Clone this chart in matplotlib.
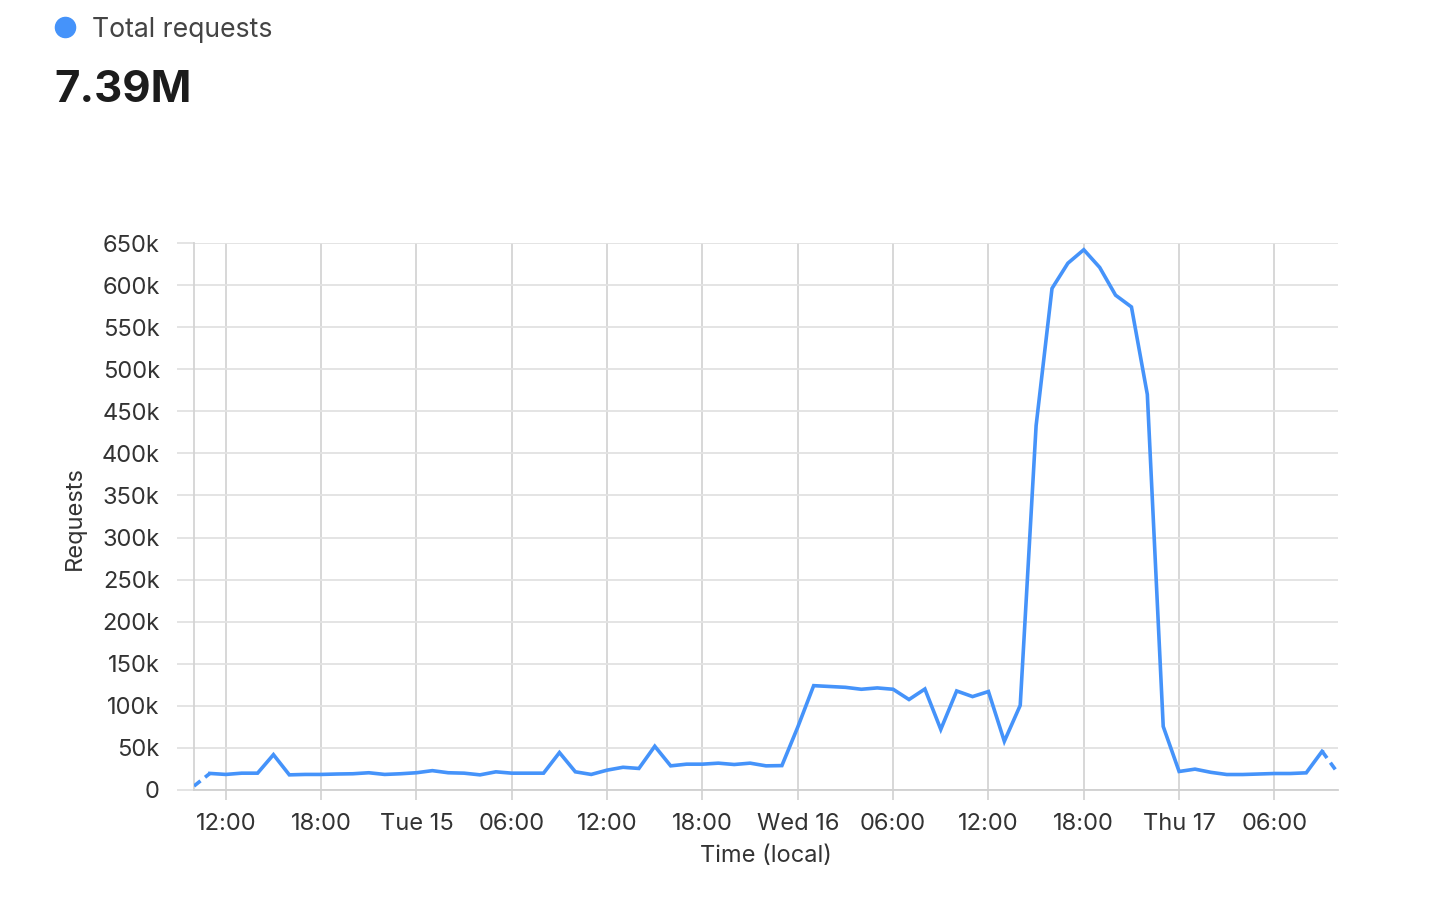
import matplotlib
matplotlib.use("Agg")
import matplotlib.pyplot as plt
import matplotlib.dates as mdates
from matplotlib.lines import Line2D
from matplotlib.ticker import FixedLocator, FixedFormatter
import pandas as pd
import numpy as np

# ---- data ----
start_time = "2024-10-14 10:00"
requests_k = [
    4.7, 19.7, 18.5, 20, 20, 42, 18, 18.5, 18.5, 19, 19.3, 20.5, 18.5, 19.3, 20.5, 23,
    20.5, 20, 18, 21.6, 20, 20, 20, 44.5, 21.6, 18.5, 23.6, 27, 25.6, 52,
    28.7, 30.7, 30.7, 31.9, 30.3, 31.9, 28.7, 29, 74.8, 124, 123, 122, 119.7, 121.3,
    119.7, 107.5, 120, 72, 117.7, 111, 117, 57.9, 100.6, 433, 596, 626, 642, 621,
    588, 574, 470, 75.5, 22, 24.8, 21, 18.4, 18.4, 19, 19.6, 19.6, 20.4, 46, 20,
]
tick_times = ["2024-10-14 12:00", "2024-10-14 18:00", "2024-10-15 00:00", "2024-10-15 06:00",
              "2024-10-15 12:00", "2024-10-15 18:00", "2024-10-16 00:00", "2024-10-16 06:00",
              "2024-10-16 12:00", "2024-10-16 18:00", "2024-10-17 00:00", "2024-10-17 06:00"]
tick_labels = ["12:00", "18:00", "Tue 15", "06:00", "12:00", "18:00", "Wed 16", "06:00",
               "12:00", "18:00", "Thu 17", "06:00"]
y_ticks = [0, 50, 100, 150, 200, 250, 300, 350, 400, 450, 500, 550, 600, 650]
y_tick_labels = ["0"] + [f"{v}k" for v in y_ticks[1:]]
series_name = "Total requests"
total_label = "7.39M"
x_label = "Time (local)"
y_label = "Requests"

# ---- style ----
FONT = ["Inter", "DejaVu Sans"]
plt.rcParams["font.family"] = FONT
BLUE = "#4593fa"
HGRID = "#e2e2e2"
VGRID = "#d4d4d4"
TXT = "#333333"
FS = 17

W, H = 1452, 898
fig = plt.figure(figsize=(W / 100, H / 100), dpi=100)
L, R, T, B = 194, 1338, 243, 790
ax = fig.add_axes([L / W, 1 - B / H, (R - L) / W, (B - T) / H])

times = pd.date_range(start_time, periods=len(requests_k), freq="h")
xnum = mdates.date2num(times.to_pydatetime())
vals = np.array(requests_k) * 1000

# solid main part, dashed partial end segments
LW = 2.6
ax.plot(xnum[1:-1], vals[1:-1], color=BLUE, lw=LW, solid_joinstyle="miter", zorder=3)
ax.plot(xnum[:2], vals[:2], color=BLUE, lw=LW, ls=(0, (2.3, 1.6)), zorder=3)
ax.plot(xnum[-2:], vals[-2:], color=BLUE, lw=LW, ls=(0, (2.3, 1.6)), zorder=3)

ax.set_xlim(xnum[0], xnum[-1])
ax.set_ylim(0, 650000)

tick_nums = mdates.date2num(pd.to_datetime(tick_times).to_pydatetime())
ax.xaxis.set_major_locator(FixedLocator(tick_nums))
ax.xaxis.set_major_formatter(FixedFormatter(tick_labels))
ax.yaxis.set_major_locator(FixedLocator([v * 1000 for v in y_ticks]))
ax.yaxis.set_major_formatter(FixedFormatter(y_tick_labels))

ax.grid(axis="y", color=HGRID, lw=1.3)
ax.grid(axis="x", color=VGRID, lw=1.3)
ax.set_axisbelow(True)

ax.tick_params(axis="y", length=12.2, width=1.3, color=HGRID, pad=12.5,
               labelsize=FS, labelcolor=TXT)
ax.tick_params(axis="x", length=7.2, width=1.3, color=VGRID, pad=9.5,
               labelsize=FS, labelcolor=TXT)

for s in ["top", "right"]:
    ax.spines[s].set_visible(False)
ax.spines["left"].set_color(VGRID)
ax.spines["left"].set_linewidth(1.3)
ax.spines["bottom"].set_color("#d0d0d0")
ax.spines["bottom"].set_linewidth(1.3)

fig.text(75 / W, 1 - 518 / H, y_label, rotation=90, ha="center", va="center",
         fontsize=FS, color=TXT)
fig.text(766 / W, 1 - 856 / H, x_label, ha="center", va="center",
         fontsize=FS, color=TXT)

# header
fig.add_artist(Line2D([65 / W], [1 - 27 / H], marker="o", markersize=14.5,
                      color=BLUE, transform=fig.transFigure, lw=0))
fig.text(92 / W, 1 - 36.7 / H, series_name, ha="left", va="baseline",
         fontsize=19.2, color="#444444")
fig.text(54 / W, 1 - 101.5 / H, total_label, ha="left", va="baseline",
         fontsize=31.5, fontweight="bold", color="#1c1c1c")

fig.savefig("out.png", dpi=100)
